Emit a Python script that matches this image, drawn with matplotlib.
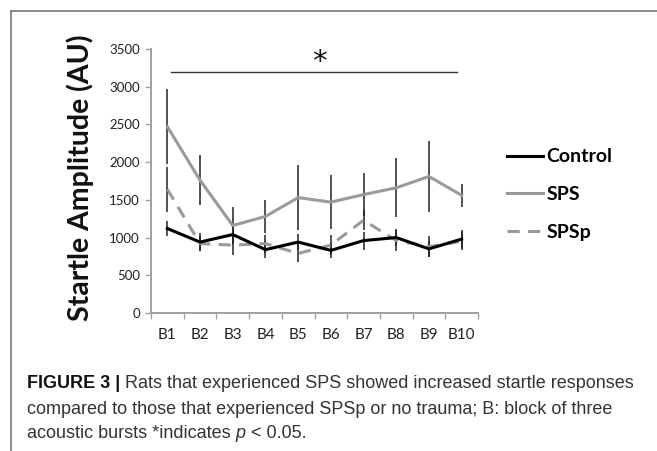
import matplotlib.pyplot as plt
import numpy as np
from matplotlib.lines import Line2D

# data
blocks = ['B1', 'B2', 'B3', 'B4', 'B5', 'B6', 'B7', 'B8', 'B9', 'B10']
control = [1120, 940, 1040, 840, 940, 830, 960, 1000, 850, 980]
control_err = [100, 120, 110, 110, 110, 100, 120, 110, 110, 120]
sps = [2470, 1760, 1160, 1280, 1530, 1470, 1570, 1660, 1810, 1560]
sps_err = [500, 330, 240, 220, 430, 360, 290, 390, 470, 150]
spsp = [1640, 920, 900, 920, 790, 900, 1230, 960, 880, 950]
spsp_err = [300, 100, 130, 120, 120, 130, 130, 140, 140, 120]

W, H = 657, 451
fig = plt.figure(figsize=(W / 100, H / 100), dpi=100)

# outer panel frame (top and left only)
fig.add_artist(Line2D([11 / W, 1], [1 - 11 / H, 1 - 11 / H], color='#777777', lw=1.2))
fig.add_artist(Line2D([11 / W, 11 / W], [0, 1 - 11 / H], color='#777777', lw=1.2))

ax = fig.add_axes([151 / W, 1 - 313 / H, 327 / W, 264 / H])
x = np.arange(len(blocks))

grey = '#9a9a9a'
ebar = '#222222'
ax.errorbar(x, sps, yerr=sps_err, fmt='none', ecolor=ebar, elinewidth=1.1, capsize=0, zorder=2)
ax.errorbar(x, spsp, yerr=spsp_err, fmt='none', ecolor=ebar, elinewidth=1.1, capsize=0, zorder=2)
ax.errorbar(x, control, yerr=control_err, fmt='none', ecolor=ebar, elinewidth=1.1, capsize=0, zorder=2)

ax.plot(x, control, color='black', lw=2.2, label='Control', zorder=4)
ax.plot(x, sps, color=grey, lw=2.2, label='SPS', zorder=3)
ax.plot(x, spsp, color=grey, lw=2.2, ls=(0, (4, 2.7)), label='SPSp', zorder=3)

ax.set_xlim(-0.5, 9.5)
ax.set_ylim(0, 3500)
ax.set_yticks(np.arange(0, 3501, 500))
ax.set_xticks(x)
ax.set_xticklabels(blocks)
ax.set_xticks(np.arange(-0.5, 10, 1), minor=True)
ax.tick_params(axis='x', which='major', length=0, pad=11, labelsize=11)
ax.tick_params(axis='x', which='minor', length=4, color='#a0a0a0', width=1)
ax.tick_params(axis='y', length=4, color='#a0a0a0', width=1, labelsize=9.5, pad=4)
for lab in ax.get_xticklabels() + ax.get_yticklabels():
    lab.set_family('Lato')
    lab.set_color('#222222')

for s in ['top', 'right']:
    ax.spines[s].set_visible(False)
for s in ['left', 'bottom']:
    ax.spines[s].set_color('#a0a0a0')
    ax.spines[s].set_linewidth(1.4)

fig.text(80 / W, 1 - 178 / H, 'Startle Amplitude (AU)', family='Lato', fontweight='bold',
         fontsize=20.5, rotation=90, ha='center', va='center', color='#111111')

# significance bar
ax.plot([0.1, 8.85], [3200, 3200], color='#333333', lw=1, clip_on=False)
ax.text(4.64, 3330, '*', ha='center', va='center', fontsize=21, color='#111111', family='DejaVu Sans')

leg = ax.legend(loc='upper left', bbox_to_anchor=(1.06, 0.66), frameon=False,
                prop={'family': 'Lato', 'weight': 'bold', 'size': 14},
                handlelength=1.85, handletextpad=0.15, labelspacing=1.06, borderpad=0)

# caption with mixed styles
fig.canvas.draw()
r = fig.canvas.get_renderer()


def draw_run(pieces, x0, y0):
    xp = x0
    for txt, kw in pieces:
        opts = dict(va='baseline', ha='left', fontsize=13, color='#333333', family='Liberation Sans')
        opts.update(kw)
        t = fig.text(xp / W, 1 - y0 / H, txt, **opts)
        bb = t.get_window_extent(renderer=r)
        xp += bb.width


draw_run([('FIGURE 3 | ', {'fontweight': 'bold', 'color': '#111111'}),
          ('Rats that experienced SPS showed increased startle responses', {})], 27, 388)
draw_run([('compared to those that experienced SPSp or no trauma; B: block of three', {})], 27, 414)
draw_run([('acoustic bursts *indicates ', {}), ('p', {'style': 'italic'}), (' < 0.05.', {})], 27, 438)

fig.savefig('out.png', dpi=100)
